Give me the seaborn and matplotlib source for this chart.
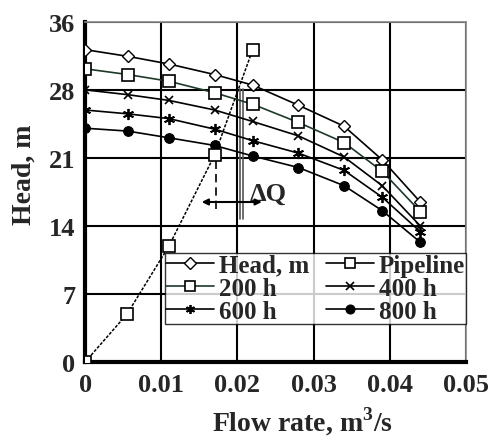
import matplotlib
matplotlib.use("Agg")
import matplotlib.pyplot as plt
import seaborn as sns
import numpy as np
import pandas as pd

# ---- data ----
flow = [0, 0.0056, 0.011, 0.017, 0.022, 0.028, 0.034, 0.039, 0.044]
head = [32.6, 31.9, 31.1, 30.0, 28.9, 26.8, 24.6, 21.1, 16.7]
h200 = [30.6, 30.0, 29.3, 28.1, 26.9, 25.0, 22.9, 19.9, 15.7]
h400 = [28.4, 27.9, 27.3, 26.3, 25.1, 23.6, 21.4, 18.4, 14.2]
h600 = [26.3, 25.9, 25.4, 24.3, 23.1, 21.8, 20.0, 17.2, 13.6]
h800 = [24.4, 24.1, 23.4, 22.6, 21.5, 20.3, 18.4, 15.8, 12.5]
pipe_flow = [0, 0.0055, 0.011, 0.017, 0.022]
pipe_head = [0, 5.0, 12.1, 21.6, 32.6]

x_ticks = [0, 0.01, 0.02, 0.03, 0.04, 0.05]
x_tick_labels = ["0", "0.01", "0.02", "0.03", "0.04", "0.05"]
y_ticks = [0, 7.1, 14.2, 21.3, 28.4, 35.5]
y_tick_labels = ["0", "7", "14", "21", "28", "36"]

sns.set_theme(style="white")
plt.rcParams['font.family'] = ['Liberation Serif', 'DejaVu Serif']
plt.rcParams['font.weight'] = 'bold'
plt.rcParams['mathtext.fontset'] = 'custom'
plt.rcParams['mathtext.rm'] = 'Liberation Serif:bold'
plt.rcParams['mathtext.bf'] = 'Liberation Serif:bold'

fig = plt.figure(figsize=(4.89, 4.39), dpi=100)
ax = fig.add_axes([0.174, 0.173, 0.779, 0.775])

def series(xv, yv, label, **kw):
    df = pd.DataFrame({"x": xv, "y": yv})
    sns.lineplot(data=df, x="x", y="y", ax=ax, label=label, legend=False,
                 estimator=None, sort=False, **kw)

series(flow, head, "Head, m", color="black", lw=1.2, marker="D", markersize=6,
       markerfacecolor="white", markeredgecolor="black", markeredgewidth=1.0, zorder=5)
series(pipe_flow, pipe_head, "Pipeline", color="black", lw=1.1, linestyle=(0, (2, 1)),
       marker="s", markersize=9, markerfacecolor="white", markeredgecolor="black",
       markeredgewidth=1.2, zorder=6)
series(flow, h200, "200 h", color="#1d3a28", lw=1.2, marker="s", markersize=9,
       markerfacecolor="white", markeredgecolor="black", markeredgewidth=1.2, zorder=5)
series(flow, h400, "400 h", color="black", lw=1.2, marker="x", markersize=6,
       markeredgecolor="black", markeredgewidth=1.2, zorder=5)
series(flow, h600, "600 h", color="black", lw=1.2, marker=(6, 2, 0), markersize=8,
       markeredgecolor="black", markeredgewidth=1.3, zorder=5)
series(flow, h800, "800 h", color="black", lw=1.2, marker="o", markersize=7,
       markerfacecolor="black", markeredgecolor="black", zorder=5)

ax.set_xlim(0, 0.05)
ax.set_ylim(0, 35.5)
ax.set_xticks(x_ticks)
ax.set_xticklabels(x_tick_labels)
ax.set_yticks(y_ticks)
ax.set_yticklabels(y_tick_labels)
ax.grid(True, color="black", lw=1.5)
ax.set_axisbelow(True)

for side in ["top", "right"]:
    ax.spines[side].set_color("#888888")
    ax.spines[side].set_linewidth(1.2)
for side in ["left", "bottom"]:
    ax.spines[side].set_color("black")
    ax.spines[side].set_linewidth(3)

ax.tick_params(axis="both", which="major", direction="out", length=6, width=2,
               color="black", labelsize=19, pad=1)
ax.tick_params(axis="x", pad=2)
ax.set_xlabel("Flow rate, m$^3$/s", fontsize=20, fontweight="bold")
ax.set_ylabel("Head, m", fontsize=20, fontweight="bold")
ax.xaxis.set_label_coords(0.57, -0.125)
ax.yaxis.set_label_coords(-0.128, 0.553)

# annotation: Delta Q
ax.plot([0.0172, 0.0172], [16.0, 21.2], color="black", lw=1.2, linestyle=(0, (5, 3)), zorder=4)
ax.plot([0.0203, 0.0203], [14.9, 28.5], color="#555555", lw=1.2, zorder=4)
ax.plot([0.0207, 0.0207], [14.9, 28.5], color="#555555", lw=1.2, zorder=4)
ax.annotate("", xy=(0.0153, 16.7), xytext=(0.0232, 16.7),
            arrowprops=dict(arrowstyle="<|-|>", color="black", lw=1.5,
                            mutation_scale=9, shrinkA=0, shrinkB=0), zorder=4)
ax.text(0.0216, 17.6, "ΔQ", fontsize=19, fontweight="bold", va="center", ha="left")

# legend, ordered to read row-wise: Head, Pipeline / 200 h, 400 h / 600 h, 800 h
handles, labels = ax.get_legend_handles_labels()
order = [0, 2, 4, 1, 3, 5]
leg = ax.legend([handles[i] for i in order], [labels[i] for i in order],
                ncol=2, loc="upper left", bbox_to_anchor=(0.21, 0.097, 0.79, 0.225),
                mode="expand", fontsize=18, frameon=True, fancybox=False,
                borderpad=0.05, labelspacing=0.0, handlelength=1.9, handletextpad=0.2,
                columnspacing=0.1, borderaxespad=0)
leg.get_frame().set_edgecolor("black")
leg.get_frame().set_linewidth(1.0)
leg.set_zorder(10)
for h in leg.legend_handles:
    h.set_linestyle("-")
    h.set_linewidth(1.2)
    h.set_markersize(min(h.get_markersize(), 6.5))

fig.savefig("out.png", dpi=100)
